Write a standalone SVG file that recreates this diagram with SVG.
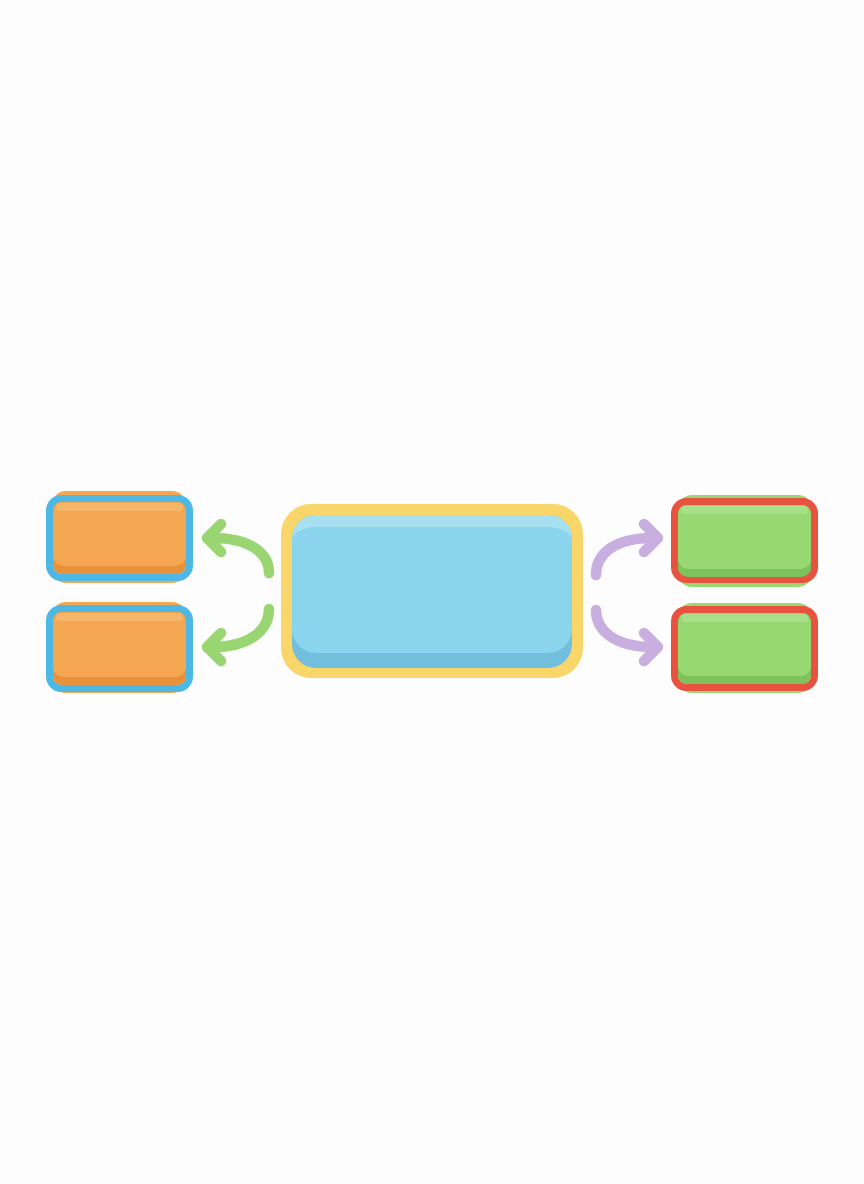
<svg xmlns="http://www.w3.org/2000/svg" width="864" height="1184" viewBox="0 0 864 1184">
<defs>
<style>
.arrow{fill:none;stroke-width:10.5;stroke-linecap:round;stroke-linejoin:round}
.g{stroke:#99D672}
.p{stroke:#C9AEE0}
</style>
</defs>
<rect width="864" height="1184" fill="#FDFDFD"/>
<g id="node-left-top">
<rect x="52" y="491" width="134" height="92" rx="14" fill="#F4A651"/>
<rect x="49.5" y="498.5" width="140" height="79" rx="12" fill="none" stroke="#4DB8E4" stroke-width="7"/>
<rect x="53" y="502" width="133" height="72" rx="10" fill="#E8913A"/>
<rect x="53" y="502" width="133" height="64" rx="10" fill="#F4A651"/>
<rect x="56" y="503" width="127" height="8" rx="4" fill="#F7B769"/>
</g>
<g id="node-left-bottom">
<rect x="52" y="602" width="134" height="91" rx="14" fill="#F4A651"/>
<rect x="49.5" y="608.5" width="140" height="80" rx="12" fill="none" stroke="#4DB8E4" stroke-width="7"/>
<rect x="53" y="612" width="133" height="73" rx="10" fill="#E8913A"/>
<rect x="53" y="612" width="133" height="65" rx="10" fill="#F4A651"/>
<rect x="56" y="613" width="127" height="8" rx="4" fill="#F7B769"/>
</g>
<g id="node-center">
<rect x="281" y="504" width="302" height="174" rx="30" fill="#F9D66A"/>
<rect x="292" y="515" width="280" height="153" rx="24" fill="#72BEDD"/>
<rect x="292" y="515" width="280" height="138" rx="24" fill="#8AD4EE"/>
<path d="M292,539 A24,24 0 0 1 316,515 H548 A24,24 0 0 1 572,539 V541 A24,14 0 0 0 548,527 H316 A24,14 0 0 0 292,541 Z" fill="#A6E0F1"/>
</g>
<g id="node-right-top">
<rect x="678" y="495" width="134" height="92" rx="14" fill="#98D873"/>
<rect x="674.5" y="501.5" width="140" height="78" rx="12" fill="none" stroke="#E8533F" stroke-width="7"/>
<rect x="678" y="505" width="133" height="72" rx="10" fill="#7DC25C"/>
<rect x="678" y="505" width="133" height="64" rx="10" fill="#98D873"/>
<rect x="681" y="506" width="127" height="8" rx="4" fill="#A8E08A"/>
</g>
<g id="node-right-bottom">
<rect x="678" y="603" width="134" height="90" rx="14" fill="#98D873"/>
<rect x="674.5" y="609.5" width="140" height="78" rx="12" fill="none" stroke="#E8533F" stroke-width="7"/>
<rect x="678" y="613" width="133" height="71" rx="10" fill="#7DC25C"/>
<rect x="678" y="613" width="133" height="63" rx="10" fill="#98D873"/>
<rect x="681" y="614" width="127" height="8" rx="4" fill="#A8E08A"/>
</g>
<g id="connectors">
<path class="arrow g" d="M269,573 C269,553 250,538 212,538"/>
<path class="arrow g" d="M221,524 L207,538 L221,552"/>
<path class="arrow g" d="M269,609 C269,630 250,647 212,647"/>
<path class="arrow g" d="M221,633 L207,647 L221,661"/>
<path class="arrow p" d="M596,575 C596,554 614,538 653,538"/>
<path class="arrow p" d="M644,524 L658,538 L644,552"/>
<path class="arrow p" d="M596,610 C596,630 614,647 653,647"/>
<path class="arrow p" d="M644,633 L658,647 L644,661"/>
</g>
</svg>
